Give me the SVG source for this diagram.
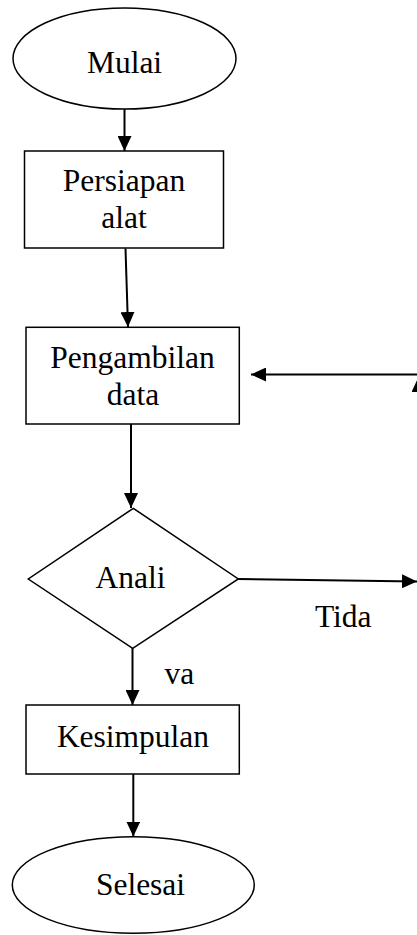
<svg xmlns="http://www.w3.org/2000/svg" width="417" height="935" viewBox="0 0 417 935">
<style>
.shape{fill:#fff;stroke:#000;stroke-width:1.5}
.conn{fill:none;stroke:#000;stroke-width:2}
text{font-family:"Liberation Serif","Times New Roman",serif;font-size:31.5px;fill:#000;text-anchor:middle}
</style>
<defs>
<marker id="arr" viewBox="0 0 15 14" refX="15" refY="7" markerWidth="15" markerHeight="14" markerUnits="userSpaceOnUse" orient="auto">
<path d="M0,0 L15,7 L0,14 z" fill="#000"/>
</marker>
</defs>
<rect width="417" height="935" fill="#fff"/>
<g id="connectors">
<line class="conn" x1="124.5" y1="109" x2="124.5" y2="151" marker-end="url(#arr)"/>
<line class="conn" x1="125.5" y1="248.5" x2="128" y2="327" marker-end="url(#arr)"/>
<line class="conn" x1="131" y1="424" x2="131" y2="508" marker-end="url(#arr)"/>
<line class="conn" x1="238" y1="579" x2="417" y2="581.5" marker-end="url(#arr)"/>
<line class="conn" x1="132.5" y1="648" x2="132.5" y2="705" marker-end="url(#arr)"/>
<line class="conn" x1="133.3" y1="774" x2="133.3" y2="836.5" marker-end="url(#arr)"/>
<line class="conn" x1="418" y1="374.5" x2="251" y2="374.5" marker-end="url(#arr)"/>
<line class="conn" x1="418.5" y1="580" x2="418.5" y2="377" marker-end="url(#arr)"/>
</g>
<g id="mulai">
<ellipse class="shape" cx="124.5" cy="58.5" rx="111.5" ry="50.5"/>
<text x="124.5" y="73">Mulai</text>
</g>
<g id="persiapan">
<rect class="shape" x="24.5" y="151" width="199" height="97"/>
<text x="124" y="190.7">Persiapan</text>
<text x="124" y="227.7">alat</text>
</g>
<g id="pengambilan">
<rect class="shape" x="26" y="327.3" width="213.3" height="96.7"/>
<text x="132.5" y="367.7">Pengambilan</text>
<text x="133" y="405">data</text>
</g>
<g id="analisis">
<polygon class="shape" points="133.3,508.3 238.3,579 132.7,648.3 28.3,579"/>
<text x="130.5" y="588.3">Anali</text>
</g>
<g id="labels">
<text x="343.3" y="626.7">Tida</text>
<text x="179.3" y="684.3">va</text>
</g>
<g id="kesimpulan">
<rect class="shape" x="26" y="705" width="213.3" height="69"/>
<text x="133" y="746.7">Kesimpulan</text>
</g>
<g id="selesai">
<ellipse class="shape" cx="133.3" cy="885" rx="121" ry="48.3"/>
<text x="140.5" y="895">Selesai</text>
</g>
</svg>
